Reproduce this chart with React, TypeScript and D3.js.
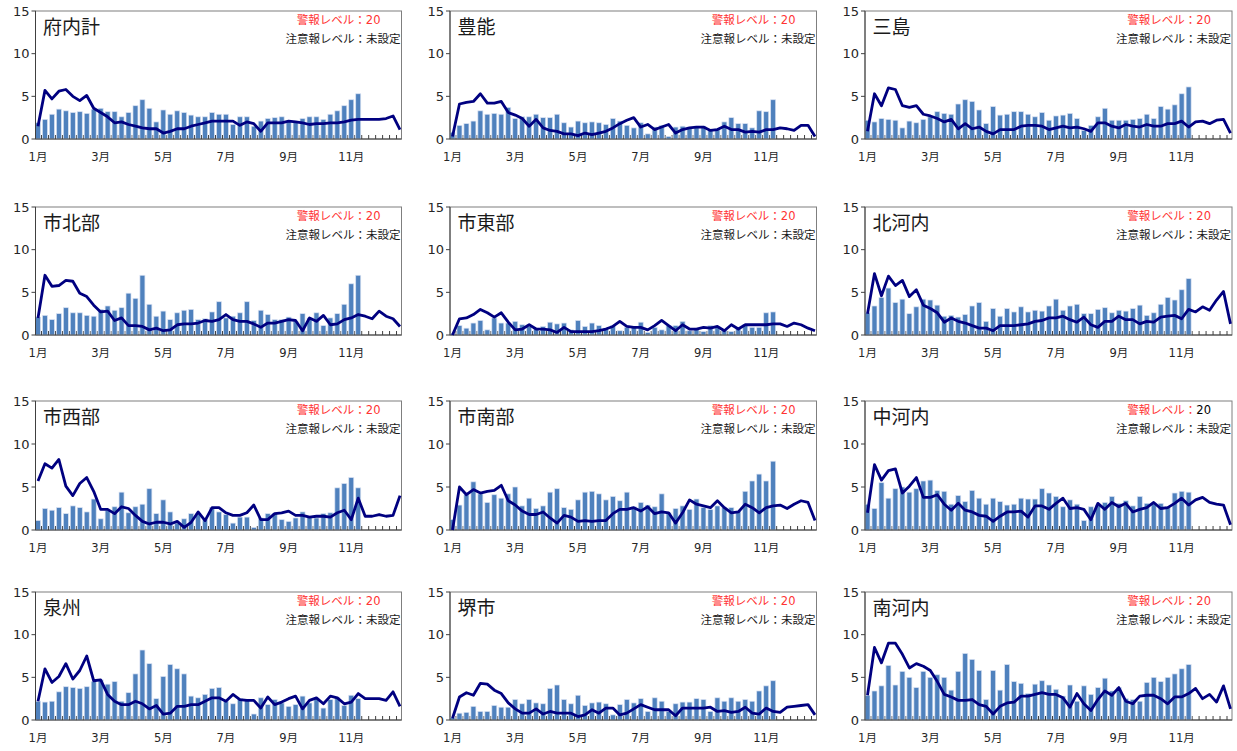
import React from "react";
import * as d3 from "d3";

const WEEKS = 53;
const MONTH_LABELS = ["1月", "3月", "5月", "7月", "9月", "11月"];
const MONTH_LABEL_STEP = 9;
const Y_TICKS = [0, 5, 10, 15];

const regionNames = ["府内計", "豊能", "三島", "市北部", "市東部", "北河内", "市西部", "市南部", "中河内", "泉州", "堺市", "南河内"];

const funaikeiBars = [1.9, 2.3, 2.9, 3.5, 3.3, 3.1, 3.2, 3.0, 3.5, 3.6, 3.2, 3.2, 2.6, 3.1, 3.9, 4.6, 3.6, 2.0, 3.4, 2.9, 3.3, 3.1, 2.8, 2.6, 2.6, 3.1, 2.9, 2.9, 1.7, 2.6, 2.6, 1.5, 2.1, 2.4, 2.5, 2.6, 2.1, 2.0, 2.4, 2.6, 2.6, 2.3, 2.9, 3.3, 3.9, 4.6, 5.3];
const funaikeiLine = [1.5, 5.7, 4.7, 5.6, 5.8, 5.0, 4.5, 5.1, 3.6, 3.1, 2.6, 1.9, 2.0, 1.7, 1.5, 1.3, 1.2, 1.2, 0.7, 0.9, 1.2, 1.2, 1.5, 1.7, 1.9, 2.1, 2.1, 2.1, 2.1, 1.6, 2.0, 1.8, 0.9, 1.9, 1.9, 1.9, 2.1, 2.0, 1.9, 1.7, 1.8, 1.8, 1.9, 1.9, 2.0, 2.2, 2.3, 2.3, 2.3, 2.3, 2.4, 2.7, 1.1];

const toyonoBars = [0.8, 1.6, 1.8, 2.1, 3.3, 2.9, 3.0, 2.9, 3.7, 2.4, 2.6, 2.6, 2.9, 2.5, 2.5, 2.9, 1.9, 1.4, 2.1, 1.9, 2.0, 1.9, 1.7, 2.4, 2.1, 1.6, 1.3, 1.9, 0.6, 1.4, 1.6, 0.3, 1.4, 1.5, 1.4, 1.5, 1.5, 1.0, 1.2, 2.0, 2.5, 1.8, 1.8, 1.3, 3.3, 3.2, 4.6];
const toyonoLine = [0.3, 4.1, 4.3, 4.4, 5.3, 4.2, 4.2, 4.4, 3.1, 2.8, 2.4, 1.5, 2.3, 1.3, 1.0, 0.9, 0.6, 0.6, 0.4, 0.7, 0.5, 0.7, 0.9, 1.3, 1.8, 2.2, 2.5, 1.4, 1.7, 1.1, 1.4, 1.7, 0.7, 1.1, 1.3, 1.4, 1.4, 1.0, 1.1, 1.5, 1.1, 1.1, 0.8, 0.9, 0.8, 1.1, 1.1, 1.3, 1.2, 1.0, 1.6, 1.6, 0.3];

const mishimaBars = [2.2, 2.0, 2.4, 2.3, 2.2, 1.3, 2.1, 1.9, 2.3, 2.6, 3.2, 3.0, 2.9, 4.1, 4.6, 4.4, 3.4, 1.8, 3.8, 2.8, 2.9, 3.2, 3.2, 2.9, 2.6, 3.1, 2.2, 2.7, 2.8, 3.0, 2.4, 1.0, 1.6, 2.6, 3.6, 2.2, 2.2, 2.2, 2.3, 2.4, 2.9, 2.4, 3.8, 3.5, 4.0, 5.3, 6.1];
const mishimaLine = [0.9, 5.3, 3.9, 6.0, 5.8, 3.9, 3.7, 3.9, 2.9, 2.7, 2.4, 2.0, 2.3, 1.2, 1.8, 1.2, 1.4, 0.9, 0.6, 1.1, 1.1, 1.1, 1.5, 1.6, 1.6, 1.5, 1.1, 1.3, 1.5, 1.3, 1.4, 1.2, 0.9, 1.9, 1.9, 1.5, 1.3, 1.7, 1.5, 1.4, 1.7, 1.5, 1.5, 1.8, 1.8, 2.1, 1.4, 2.0, 2.1, 1.8, 2.2, 2.3, 0.7];

const shihokubuBars = [2.1, 2.3, 1.8, 2.5, 3.2, 2.6, 2.6, 2.3, 2.2, 3.0, 3.4, 2.9, 3.2, 4.9, 4.3, 7.0, 3.6, 2.2, 2.8, 1.8, 2.6, 2.9, 3.0, 1.8, 1.9, 2.7, 3.9, 2.0, 2.2, 2.6, 3.9, 1.7, 2.9, 2.4, 1.8, 1.8, 2.1, 1.6, 2.5, 2.0, 2.6, 1.1, 2.0, 2.5, 3.6, 6.0, 7.0];
const shihokubuLine = [2.0, 7.0, 5.7, 5.8, 6.4, 6.3, 4.9, 4.5, 3.5, 2.7, 2.8, 1.7, 2.0, 1.1, 1.1, 1.0, 0.6, 0.8, 0.5, 0.6, 1.2, 1.3, 1.3, 1.4, 1.7, 1.6, 1.8, 2.4, 1.8, 1.6, 1.6, 1.3, 0.9, 1.4, 1.4, 1.6, 1.8, 1.7, 0.5, 2.0, 1.6, 2.3, 1.2, 1.3, 1.8, 2.0, 2.4, 2.2, 1.9, 2.8, 2.2, 1.9, 1.0];

const shitobuBars = [0.2, 1.1, 0.8, 1.4, 1.7, 0.6, 2.0, 1.4, 1.4, 1.6, 1.2, 1.0, 0.8, 1.0, 1.5, 1.3, 1.4, 0.6, 1.7, 1.0, 1.4, 1.1, 0.8, 1.1, 0.5, 0.9, 1.0, 1.5, 0.3, 0.9, 0.6, 1.1, 1.1, 1.6, 0.5, 0.8, 0.4, 1.1, 1.0, 0.5, 0.4, 0.8, 1.2, 0.9, 0.9, 2.6, 2.7];
const shitobuLine = [0.0, 1.9, 2.0, 2.4, 3.0, 2.6, 2.1, 2.6, 1.5, 0.6, 0.7, 1.2, 0.7, 0.7, 0.6, 0.3, 0.9, 0.4, 0.4, 0.4, 0.4, 0.5, 0.7, 1.0, 1.6, 1.0, 0.9, 0.9, 0.6, 1.1, 1.7, 1.1, 0.5, 1.2, 0.7, 0.7, 0.9, 0.8, 1.0, 0.5, 1.2, 0.7, 1.2, 1.2, 1.2, 1.2, 1.3, 1.3, 1.0, 1.4, 1.2, 0.8, 0.5];

const kitakawachiBars = [2.6, 3.4, 4.4, 5.5, 3.8, 4.2, 2.5, 3.3, 4.2, 4.1, 3.5, 2.2, 2.3, 2.1, 2.4, 3.4, 3.8, 1.6, 3.1, 2.2, 3.1, 2.7, 3.3, 2.7, 2.9, 2.8, 3.4, 4.2, 2.9, 3.4, 3.6, 2.5, 2.5, 3.0, 3.2, 2.6, 2.9, 2.8, 3.1, 3.5, 2.3, 2.6, 3.6, 4.4, 4.1, 5.3, 6.6];
const kitakawachiLine = [2.5, 7.2, 4.6, 6.9, 5.8, 6.4, 4.5, 5.3, 3.5, 3.1, 2.6, 1.5, 2.0, 1.6, 1.4, 1.1, 0.8, 0.8, 0.5, 1.1, 1.1, 1.1, 1.2, 1.3, 1.6, 1.7, 2.0, 2.0, 2.2, 1.8, 1.5, 2.1, 1.2, 0.9, 1.6, 1.6, 2.2, 1.8, 1.8, 1.3, 1.6, 1.5, 2.1, 2.2, 2.3, 1.9, 3.0, 2.7, 3.3, 2.9, 4.1, 5.1, 1.3];

const shiseibuBars = [1.1, 2.5, 2.3, 2.6, 1.9, 2.8, 2.6, 2.1, 3.6, 1.3, 2.3, 2.7, 4.4, 2.0, 2.7, 3.0, 4.8, 1.9, 3.5, 2.1, 0.8, 1.3, 1.9, 1.9, 1.2, 2.6, 2.1, 1.8, 0.8, 1.5, 1.5, 0.3, 1.4, 1.9, 1.9, 1.2, 1.0, 1.4, 2.1, 1.5, 1.4, 1.9, 2.0, 4.9, 5.4, 6.1, 4.9];
const shiseibuLine = [5.7, 7.7, 7.2, 8.2, 5.1, 4.0, 5.4, 6.1, 4.5, 2.4, 2.4, 1.9, 2.7, 2.5, 1.7, 1.0, 0.7, 0.9, 0.9, 0.7, 1.0, 0.3, 0.9, 2.1, 1.1, 2.6, 2.6, 2.0, 1.7, 1.7, 2.0, 2.9, 1.2, 1.2, 1.9, 2.0, 2.2, 1.7, 1.7, 1.5, 1.6, 1.6, 1.5, 2.0, 2.3, 1.2, 3.7, 1.6, 1.6, 1.8, 1.6, 1.7, 4.0];

const shinanbuBars = [1.2, 2.9, 4.1, 5.6, 4.2, 3.2, 4.1, 3.7, 4.2, 5.0, 2.8, 3.7, 2.5, 2.8, 4.4, 4.8, 2.6, 2.4, 3.5, 4.4, 4.5, 4.2, 3.5, 3.9, 3.4, 4.4, 2.7, 3.2, 2.9, 2.7, 4.2, 2.0, 2.5, 2.8, 2.4, 3.6, 2.6, 2.4, 2.8, 2.6, 2.6, 2.2, 4.5, 5.7, 6.5, 5.7, 8.0];
const shinanbuLine = [0.0, 5.0, 4.1, 4.7, 4.3, 4.5, 4.6, 5.2, 3.4, 2.9, 2.2, 1.8, 1.8, 2.1, 1.4, 0.8, 1.7, 1.5, 1.0, 1.1, 1.0, 1.1, 1.1, 1.9, 2.4, 2.4, 2.6, 2.2, 2.7, 1.9, 2.1, 2.0, 0.8, 2.0, 3.5, 3.0, 2.8, 2.6, 3.4, 2.6, 2.0, 2.1, 3.0, 2.6, 2.0, 2.6, 2.8, 2.9, 2.5, 3.0, 3.4, 3.2, 1.1];

const nakakawachiBars = [3.0, 2.5, 5.5, 3.7, 4.8, 5.0, 4.4, 4.8, 5.7, 5.8, 4.6, 4.5, 3.0, 4.0, 3.3, 4.6, 3.7, 3.0, 3.7, 3.3, 2.9, 3.0, 3.7, 3.6, 3.6, 4.8, 4.3, 3.9, 2.7, 3.5, 3.0, 1.1, 2.7, 2.9, 3.2, 3.9, 3.1, 3.4, 2.8, 3.9, 3.1, 3.1, 3.1, 2.7, 4.3, 4.5, 4.4];
const nakakawachiLine = [2.0, 7.6, 5.8, 6.9, 7.1, 4.3, 5.1, 6.1, 3.8, 3.8, 4.1, 3.0, 2.3, 3.1, 2.3, 2.1, 1.7, 1.6, 1.0, 1.6, 2.1, 2.1, 2.2, 1.5, 2.8, 2.8, 2.4, 3.1, 3.7, 2.5, 2.6, 2.4, 1.2, 3.1, 2.4, 3.2, 2.7, 3.1, 2.1, 2.4, 2.6, 3.2, 2.5, 2.6, 3.1, 3.7, 2.9, 3.5, 3.8, 3.2, 3.0, 2.9, 0.6];

const senshuBars = [2.2, 2.1, 2.2, 3.3, 3.9, 3.8, 3.7, 3.9, 4.5, 4.7, 4.2, 4.5, 2.2, 3.2, 5.4, 8.2, 6.6, 2.5, 5.1, 6.5, 6.0, 5.4, 2.8, 2.6, 3.0, 3.7, 3.8, 2.2, 1.9, 2.5, 2.3, 0.7, 2.6, 1.8, 2.4, 2.0, 1.6, 1.8, 2.8, 2.0, 2.5, 1.4, 2.4, 2.6, 1.7, 2.9, 2.5];
const senshuLine = [2.2, 6.0, 4.4, 5.1, 6.6, 4.8, 5.8, 7.5, 4.6, 4.7, 3.0, 2.2, 1.8, 1.8, 2.2, 1.9, 1.3, 1.7, 0.7, 0.8, 1.6, 1.6, 1.8, 1.8, 2.2, 2.6, 2.6, 2.2, 3.0, 2.4, 2.3, 2.3, 1.4, 2.7, 1.8, 2.1, 2.5, 2.8, 1.3, 2.3, 2.6, 1.9, 2.8, 2.6, 1.9, 2.1, 3.1, 2.5, 2.5, 2.5, 2.3, 3.3, 1.6];

const sakaiBars = [0.3, 0.8, 0.9, 1.6, 1.0, 1.0, 1.7, 1.5, 1.5, 2.4, 1.9, 2.4, 2.0, 1.9, 3.7, 4.1, 2.4, 1.9, 2.9, 1.7, 2.0, 2.1, 1.9, 0.6, 1.8, 2.4, 2.0, 2.5, 1.0, 2.6, 2.2, 1.0, 1.9, 2.1, 2.1, 2.5, 2.4, 1.0, 2.6, 2.2, 2.6, 2.2, 2.4, 2.2, 3.4, 4.0, 4.6];
const sakaiLine = [0.2, 2.7, 3.2, 2.9, 4.3, 4.2, 3.5, 3.1, 2.0, 1.3, 0.8, 0.8, 1.3, 0.7, 1.0, 0.8, 0.8, 0.8, 0.4, 0.6, 1.2, 0.8, 1.4, 1.4, 0.6, 0.8, 1.3, 1.8, 1.5, 1.2, 1.2, 1.2, 0.5, 1.4, 1.4, 1.4, 1.4, 1.5, 1.0, 1.1, 0.9, 1.0, 1.5, 0.8, 0.7, 1.4, 1.0, 0.9, 1.5, 1.6, 1.7, 1.8, 0.6];

const minamikawachiBars = [2.9, 3.4, 4.0, 6.4, 4.1, 5.7, 5.0, 3.8, 5.7, 5.0, 5.3, 5.0, 3.5, 5.7, 7.8, 7.1, 5.8, 2.4, 5.8, 3.5, 6.5, 4.5, 4.3, 3.1, 4.2, 4.6, 4.1, 3.6, 2.8, 4.1, 2.2, 4.0, 3.0, 3.8, 4.9, 3.4, 3.8, 2.5, 2.4, 2.2, 4.4, 5.0, 4.5, 5.0, 5.4, 6.0, 6.5];
const minamikawachiLine = [2.9, 8.5, 6.7, 9.0, 9.0, 7.7, 6.1, 6.6, 6.3, 5.8, 4.5, 3.0, 2.7, 2.3, 2.3, 2.4, 1.8, 1.6, 0.7, 1.6, 2.0, 2.1, 2.8, 2.8, 3.0, 3.2, 3.0, 3.0, 2.6, 1.5, 3.1, 1.9, 1.1, 2.4, 3.4, 2.9, 3.8, 2.2, 1.9, 2.8, 2.9, 2.9, 2.5, 1.9, 2.7, 2.7, 3.1, 3.7, 2.5, 3.0, 2.1, 4.0, 1.3];

const allBars = [funaikeiBars, toyonoBars, mishimaBars, shihokubuBars, shitobuBars, kitakawachiBars, shiseibuBars, shinanbuBars, nakakawachiBars, senshuBars, sakaiBars, minamikawachiBars];
const allLines = [funaikeiLine, toyonoLine, mishimaLine, shihokubuLine, shitobuLine, kitakawachiLine, shiseibuLine, shinanbuLine, nakakawachiLine, senshuLine, sakaiLine, minamikawachiLine];

const ALARM_LABEL = "警報レベル：";
const ALARM_VALUE = "20";
const CAUTION_LABEL = "注意報レベル：未設定";

// layout
const COL_LEFT = [35.5, 450, 865];
const COL_RIGHT = [401.5, 816.5, 1232];
const ROW_TOP = [11, 207, 401, 592];
const ROW_H = [128, 128, 129, 128];

const FONT_NUM = "'DejaVu Sans', 'Noto Sans CJK JP', sans-serif";
const FONT_JP = "'Noto Sans CJK JP', sans-serif";

function Panel({ idx }: { idx: number }) {
  const col = idx % 3;
  const row = Math.floor(idx / 3);
  const left = COL_LEFT[col];
  const right = COL_RIGHT[col];
  const top = ROW_TOP[row];
  const bottom = top + ROW_H[row];
  const bars = allBars[idx];
  const line = allLines[idx];
  const name = regionNames[idx];

  const x = d3.scalePoint<number>().domain(d3.range(WEEKS)).range([left + 2.5, right - 1.5]).padding(0);
  const y = d3.scaleLinear().domain([0, 15]).range([bottom, top]);
  const step = x.step();
  const barW = 5;
  const linePath = d3
    .line<number>()
    .x((_, i) => x(i) as number)
    .y((d) => y(d))(line) as string;

  const boundaries = d3.range(WEEKS - 1).map((i) => (x(i) as number) + step / 2);
  const alarmValueColor = name === "中河内" ? "#000000" : "#ff3333";

  return (
    <g>
      {/* plot border */}
      <rect x={left} y={top} width={right - left} height={bottom - top} fill="none" stroke="#7f7f7f" strokeWidth={1} />
      {/* category boundary ticks (inside) */}
      {boundaries.map((bx, i) => (
        <line key={"t" + i} x1={bx} x2={bx} y1={bottom} y2={bottom - 4} stroke="#404040" strokeWidth={1} />
      ))}
      {/* bars */}
      {bars.map((v, i) => (
        <rect
          key={"b" + i}
          x={(x(i) as number) - barW / 2}
          y={y(v)}
          width={barW}
          height={bottom - y(v)}
          fill="#4f81bd"
          stroke="#d9e2f3"
          strokeWidth={0.7}
        />
      ))}
      {/* axes */}
      <line x1={left} x2={left} y1={top} y2={bottom} stroke="#404040" strokeWidth={1} />
      <line x1={left} x2={right} y1={bottom} y2={bottom} stroke="#404040" strokeWidth={1} />
      {Y_TICKS.map((t) => (
        <g key={"y" + t}>
          <line x1={left - 4} x2={left} y1={y(t)} y2={y(t)} stroke="#404040" strokeWidth={1} />
          <text x={left - 6} y={y(t)} dy="0.36em" textAnchor="end" fontSize={13} fontFamily={FONT_NUM} fill="#262626">
            {t}
          </text>
        </g>
      ))}
      {/* line */}
      <path d={linePath} fill="none" stroke="#000080" strokeWidth={2.8} strokeLinejoin="round" />
      {/* month labels */}
      {MONTH_LABELS.map((m, i) => (
        <text
          key={"m" + i}
          x={x(i * MONTH_LABEL_STEP) as number}
          y={bottom + 22}
          textAnchor="middle"
          fontSize={11.5}
          fontFamily={FONT_NUM}
          fill="#262626"
        >
          {m}
        </text>
      ))}
      {/* title */}
      <text x={left + 7.5} y={top + 23} fontSize={19} fontFamily={FONT_JP} fill="#1a1a1a">
        {name}
      </text>
      <text x={right - 21} y={top + 13} textAnchor="end" fontSize={11.5} fontFamily={FONT_JP} fill="#ff3333">
        {ALARM_LABEL}
        <tspan fill={alarmValueColor} fontFamily={FONT_NUM}>{ALARM_VALUE}</tspan>
      </text>
      <text x={right - 1} y={top + 32} textAnchor="end" fontSize={11.5} fontFamily={FONT_JP} fill="#1a1a1a">
        {CAUTION_LABEL}
      </text>
    </g>
  );
}

export default function App() {
  return (
    <svg
      width={1237}
      height={751}
      viewBox="0 0 1237 751"
      style={{ position: "absolute", left: 0, top: 0, background: "#ffffff" }}
    >
      <rect x={0} y={0} width={1237} height={751} fill="#ffffff" />
      {regionNames.map((_, i) => (
        <Panel key={i} idx={i} />
      ))}
    </svg>
  );
}
